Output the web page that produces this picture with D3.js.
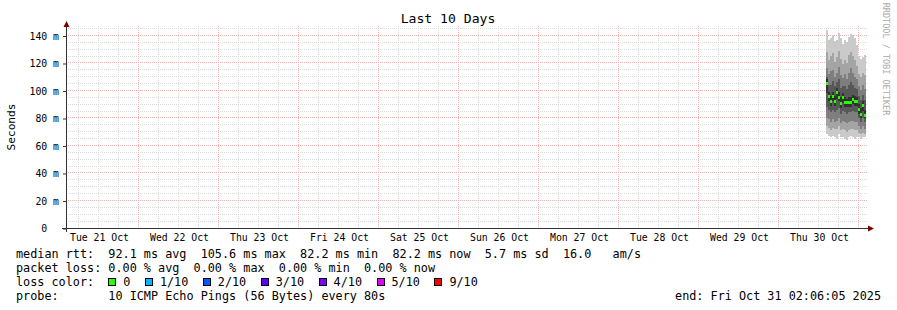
<!DOCTYPE html>
<html>
<head>
<meta charset="utf-8">
<script src="https://cdn.jsdelivr.net/npm/d3@7"></script>
<style>
  body { margin: 0; background: #fff; }
  svg text { font-family: "DejaVu Sans Mono", monospace; fill: #000; white-space: pre; }
</style>
</head>
<body>
<div id="chart"></div>
<script>
// time range of the graph
const rangeStart = "2025-10-21 02:06:05";
const rangeEnd = "2025-10-31 02:06:05";
const dayLabels = ["2025-10-21", "2025-10-22", "2025-10-23", "2025-10-24", "2025-10-25",
  "2025-10-26", "2025-10-27", "2025-10-28", "2025-10-29", "2025-10-30"];
const yTicks = [0, 20, 40, 60, 80, 100, 120, 140];

// consolidated data rows (start of each step)
const columnTimes = ["2025-10-30 14:06:05", "2025-10-30 14:42:05", "2025-10-30 15:18:05", "2025-10-30 15:54:05",
  "2025-10-30 16:30:05", "2025-10-30 17:06:05", "2025-10-30 17:42:05", "2025-10-30 18:18:05",
  "2025-10-30 18:54:05", "2025-10-30 19:30:05", "2025-10-30 20:06:05", "2025-10-30 20:42:05",
  "2025-10-30 21:18:05", "2025-10-30 21:54:05", "2025-10-30 22:30:05", "2025-10-30 23:06:05",
  "2025-10-30 23:42:05", "2025-10-31 00:18:05", "2025-10-31 00:54:05", "2025-10-31 01:30:05"];

// median rtt (ms)
const median = [105.6, 96, 92.6, 96, 92.6, 98.9, 95.3, 90.9, 95.3, 91.6, 91.6, 91.6, 91.6, 93.8, 92.4, 92.4, 86.5, 82.9, 89.5, 82.2];
// sorted pings (ms), ping1 = fastest, ping10 = slowest
const ping1  = [68, 67, 66, 67, 66, 65, 68, 66, 66, 65, 64, 66, 67, 66, 65, 66, 66, 65, 66, 66];
const ping2  = [74, 73, 71, 73, 72, 72, 74, 71, 72, 71, 70, 71, 72, 72, 71, 71, 69, 68, 69, 68];
const ping3  = [80, 79, 77, 79, 77, 78, 80, 76, 78, 77, 76, 77, 78, 78, 77, 77, 74, 72, 74, 72];
const ping4  = [88, 86, 84, 86, 84, 86, 87, 83, 85, 84, 83, 84, 84, 85, 84, 84, 80, 77, 80, 77];
const ping5  = [98, 92, 89, 92, 89, 94, 92, 87, 91, 88, 88, 88, 88, 90, 89, 89, 83, 80, 85, 80];
const ping6  = [108, 99, 96, 99, 96, 102, 99, 95, 98, 95, 94, 95, 95, 97, 96, 95, 90, 87, 92, 86];
const ping7  = [110, 104, 104, 107, 103, 106, 108, 102, 103, 103, 101, 104, 106, 104, 102, 101, 96, 93, 97, 93];
const ping8  = [116, 112, 114, 115, 110, 113, 117, 111, 109, 112, 108, 113, 116, 113, 110, 108, 103, 100, 104, 101];
const ping9  = [128, 122, 125, 127, 121, 124, 129, 123, 119, 122, 120, 126, 128, 125, 122, 118, 112, 110, 113, 111];
const ping10 = [144, 137, 138, 140, 136, 137, 142, 138, 134, 137, 135, 139, 141, 140, 138, 133, 125, 123, 124, 126];

const lossLabels = ["0", "1/10", "2/10", "3/10", "4/10", "5/10", "9/10"];
const lossColors = ["#26ff00", "#00b8ff", "#0059ff", "#5e00ff", "#7e00ff", "#dd00ff", "#ff0000"];

const medianLine = "median rtt:  92.1 ms avg  105.6 ms max  82.2 ms min  82.2 ms now  5.7 ms sd  16.0   am/s";
const lossLine = "packet loss: 0.00 % avg  0.00 % max  0.00 % min  0.00 % now";
const probeLine = "probe:       10 ICMP Echo Pings (56 Bytes) every 80s";
const endLine = "end: Fri Oct 31 02:06:05 2025";

const width = 897, height = 310;
const plotLeft = 66, plotRight = 866, plotTop = 28, plotBottom = 228;
const parse = d3.timeParse("%Y-%m-%d %H:%M:%S");
const parseDay = d3.timeParse("%Y-%m-%d");
const t0 = parse(rangeStart), t1 = parse(rangeEnd);

const svg = d3.select("#chart").append("svg")
  .attr("width", width)
  .attr("height", height);

svg.append("rect").attr("width", width).attr("height", height).attr("fill", "#fff");

const x = d3.scaleTime().domain([t0, t1]).range([plotLeft, plotRight]);
const y = d3.scaleLinear().domain([0, 145.45]).range([plotBottom, plotTop]);

const px = v => Math.floor(v) + 0.5;

// grid
const grid = svg.append("g").attr("stroke-dasharray", "1,1").attr("stroke-width", 1);
const minorY = d3.range(5, 146, 5).filter(v => v % 20 !== 0);
grid.selectAll(".hminor").data(minorY).enter().append("line")
  .attr("x1", plotLeft).attr("x2", plotRight + 2)
  .attr("y1", d => px(y(d))).attr("y2", d => px(y(d)))
  .attr("stroke", "#dadada");
const days = d3.timeDay.range(t0, t1);
const hours = d3.timeHour.every(6).range(t0, t1).filter(d => d.getHours() !== 0);
grid.selectAll(".vminor").data(hours).enter().append("line")
  .attr("x1", d => px(x(d))).attr("x2", d => px(x(d)))
  .attr("y1", plotTop - 2).attr("y2", plotBottom)
  .attr("stroke", "#dadada");
grid.selectAll(".hmajor").data(yTicks.filter(v => v > 0)).enter().append("line")
  .attr("x1", plotLeft).attr("x2", plotRight + 2)
  .attr("y1", d => px(y(d))).attr("y2", d => px(y(d)))
  .attr("stroke", "#f6b0b0");
grid.selectAll(".vmajor").data(days).enter().append("line")
  .attr("x1", d => px(x(d))).attr("x2", d => px(x(d)))
  .attr("y1", plotTop - 2).attr("y2", plotBottom)
  .attr("stroke", "#f6b0b0");

// smoke
const pings = [ping1, ping2, ping3, ping4, ping5, ping6, ping7, ping8, ping9, ping10];
const times = columnTimes.map(parse);
const colX0 = i => Math.round(x(times[i]));
const colX1 = i => Math.round(x(i + 1 < times.length ? times[i + 1] : t1));
const half = pings.length / 2;
const smoke = svg.append("g").attr("shape-rendering", "crispEdges");
for (let k = 0; k < pings.length - 1; k++) {
  const g = Math.round(190 / half * Math.abs(half - (k + 1))) + 50;
  const col = d3.rgb(g, g, g).toString();
  smoke.selectAll(null).data(times).enter().append("rect")
    .attr("x", (d, i) => colX0(i))
    .attr("width", (d, i) => colX1(i) - colX0(i))
    .attr("y", (d, i) => Math.round(y(pings[k + 1][i])))
    .attr("height", (d, i) => Math.round(y(pings[k][i])) - Math.round(y(pings[k + 1][i])))
    .attr("fill", col);
}

// median (loss 0 -> green)
smoke.selectAll(".med").data(median).enter().append("rect")
  .attr("x", (d, i) => colX0(i))
  .attr("width", (d, i) => colX1(i) - colX0(i))
  .attr("y", d => Math.round(y(d)) - 1)
  .attr("height", 3)
  .attr("fill", lossColors[0]);

// axes
const axisColor = "#333";
svg.append("line").attr("x1", plotLeft + 0.5).attr("x2", plotLeft + 0.5).attr("y1", plotBottom + 4).attr("y2", plotTop - 4)
  .attr("stroke", axisColor);
svg.append("line").attr("x1", plotLeft - 4).attr("x2", plotRight + 3).attr("y1", plotBottom + 0.5).attr("y2", plotBottom + 0.5)
  .attr("stroke", axisColor);
svg.append("path").attr("d", `M${plotLeft + 0.5},${plotTop - 7} L${plotLeft + 3.5},${plotTop - 1} L${plotLeft - 2.5},${plotTop - 1} Z`)
  .attr("fill", "#7f0000");
svg.append("path").attr("d", `M${plotRight + 8},${plotBottom + 0.5} L${plotRight + 2},${plotBottom - 2.5} L${plotRight + 2},${plotBottom + 3.5} Z`)
  .attr("fill", "#7f0000");

// y axis labels
const yAxis = d3.axisLeft(y).tickValues(yTicks).tickSize(3).tickPadding(4)
  .tickFormat(d => d === 0 ? "0  " : d + " m");
const ya = svg.append("g").attr("transform", `translate(${plotLeft},0)`).call(yAxis);
ya.select(".domain").remove();
ya.selectAll(".tick line").attr("stroke", axisColor).attr("transform", "translate(0,0.5)");
ya.selectAll(".tick text")
  .attr("font-family", "DejaVu Sans Mono").attr("font-size", "9.8px")
  .attr("xml:space", "preserve")
  .attr("fill", "#000").attr("dy", "0.37em");

// x axis labels at noon of each day
const noons = dayLabels.map(d => d3.timeHour.offset(parseDay(d), 12));
const xAxis = d3.axisBottom(x).tickValues(noons).tickSize(0).tickPadding(6)
  .tickFormat(d3.timeFormat("%a %d %b"));
const xa = svg.append("g").attr("transform", `translate(0,${plotBottom})`).call(xAxis);
xa.select(".domain").remove();
xa.selectAll(".tick text")
  .attr("font-family", "DejaVu Sans Mono").attr("font-size", "9.8px").attr("fill", "#000");

// title
svg.append("text").attr("x", 448).attr("y", 23).attr("text-anchor", "middle")
  .attr("font-size", "13.1px").text("Last 10 Days");

// y title
svg.append("text").attr("transform", "translate(15,127) rotate(-90)")
  .attr("text-anchor", "middle").attr("font-size", "11.2px").text("Seconds");

// watermark
svg.append("text").attr("transform", "translate(883,59) rotate(90)")
  .attr("text-anchor", "middle").attr("font-size", "8.5px")
  .style("fill", "#aaaaaa").text("RRDTOOL / TOBI OETIKER");

// legend
const charW = 7.1;
const legend = svg.append("g").attr("font-size", "11.8px");
const legendText = (xPos, yPos, s) => legend.append("text")
  .attr("x", xPos).attr("y", yPos).attr("xml:space", "preserve").text(s);
legendText(16, 258, medianLine);
legendText(16, 272, lossLine);
legendText(16, 286, "loss color:");
legendText(16, 300, probeLine);
legendText(881, 300, endLine).attr("text-anchor", "end");

let lx = 16 + 13 * charW;
lossLabels.forEach((lab, i) => {
  legend.append("rect").attr("x", Math.round(lx) + 0.5).attr("y", 278.5)
    .attr("width", 7).attr("height", 7)
    .attr("fill", lossColors[i]).attr("stroke", "#000").attr("stroke-width", 1);
  legendText(lx + 15, 286, lab);
  lx = lx + 15 + lab.length * charW + 14.5;
});
</script>
</body>
</html>
